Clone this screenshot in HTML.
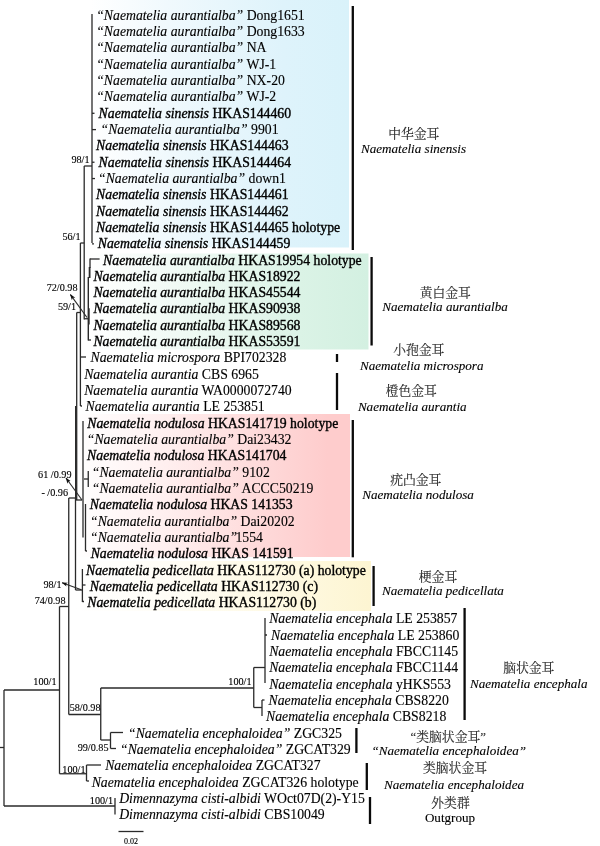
<!DOCTYPE html>
<html lang="zh"><head><meta charset="utf-8"><title>Naematelia phylogeny</title>
<style>
html,body{margin:0;padding:0;background:#fff;}
svg{display:block;}
text{font-family:"Liberation Serif","Noto Serif CJK SC",serif;fill:#000;stroke:#000;stroke-width:0.12px;}
.t{font-size:13.75px;}
.i{font-style:italic;}
.b{stroke-width:0.36px;}
.s{font-size:10.2px;}
.cn{font-size:12.8px;font-family:"Liberation Serif","Noto Serif CJK SC",serif;fill:#333;}
.g{font-size:13.1px;}
.ln line{stroke:#2a2a2a;stroke-linecap:butt;}
</style></head><body>
<svg width="600" height="846" viewBox="0 0 600 846">
<defs>
<linearGradient id="gb" x1="0" x2="1" y1="0" y2="0"><stop offset="0" stop-color="#ffffff"/><stop offset="0.3" stop-color="#f0f9fd"/><stop offset="0.75" stop-color="#def3fb"/><stop offset="1" stop-color="#d9f2fa"/></linearGradient>
<linearGradient id="gg" x1="0" x2="1" y1="0" y2="0"><stop offset="0" stop-color="#ffffff"/><stop offset="0.3" stop-color="#f1faf5"/><stop offset="0.75" stop-color="#dbf3e6"/><stop offset="1" stop-color="#d3f0e1"/></linearGradient>
<linearGradient id="gr" x1="0" x2="1" y1="0" y2="0"><stop offset="0" stop-color="#ffffff"/><stop offset="0.3" stop-color="#fff1f1"/><stop offset="0.7" stop-color="#fed8d8"/><stop offset="0.92" stop-color="#fecccc"/><stop offset="1" stop-color="#fecccc"/></linearGradient>
<linearGradient id="gy" x1="0" x2="1" y1="0" y2="0"><stop offset="0" stop-color="#ffffff"/><stop offset="0.35" stop-color="#fffdf5"/><stop offset="0.8" stop-color="#fef8dd"/><stop offset="1" stop-color="#fdf5d2"/></linearGradient>
<marker id="ah" viewBox="0 0 10 10" refX="9" refY="5" markerWidth="5.5" markerHeight="5.5" orient="auto"><path d="M0,1.5 L10,5 L0,8.5 L2.5,5 z" fill="#111"/></marker>
</defs>
<rect x="0" y="0" width="600" height="846" fill="#ffffff"/>

<rect x="90" y="0" width="259" height="247.5" fill="url(#gb)"/>
<rect x="90" y="253.5" width="278.5" height="96" fill="url(#gg)"/>
<rect x="75" y="414" width="275" height="143" fill="url(#gr)"/>
<rect x="75" y="561" width="296" height="50" fill="url(#gy)"/>
<g class="ln">
<line x1="92" y1="14" x2="92" y2="243" stroke-width="1.3"/>
<line x1="92" y1="113.29000000000002" x2="94.5" y2="113.29000000000002" stroke-width="1.3"/>
<line x1="92" y1="129.60500000000002" x2="96" y2="129.60500000000002" stroke-width="1.3"/>
<line x1="92" y1="162.235" x2="94.5" y2="162.235" stroke-width="1.3"/>
<line x1="92" y1="178.55" x2="95" y2="178.55" stroke-width="1.3"/>
<line x1="92" y1="243.81000000000003" x2="94" y2="243.81000000000003" stroke-width="1.3"/>
<line x1="84.2" y1="166" x2="92" y2="166" stroke-width="1.3"/>
<line x1="84.2" y1="166" x2="84.2" y2="319.4" stroke-width="1.3"/>
<line x1="80.4" y1="243" x2="84.2" y2="243" stroke-width="1.3"/>
<line x1="84.2" y1="318.75" x2="88" y2="318.75" stroke-width="1.3"/>
<line x1="90" y1="259" x2="99.6" y2="259" stroke-width="1.3"/>
<line x1="90" y1="258.4" x2="90" y2="268" stroke-width="1.3"/>
<line x1="89.6" y1="267" x2="89.6" y2="278" stroke-width="1.8"/>
<line x1="88.3" y1="277" x2="88.3" y2="340.5" stroke-width="1.4"/>
<line x1="88.9" y1="308.3" x2="88.9" y2="324.6" stroke-width="1.6"/>
<line x1="88.3" y1="340" x2="91" y2="340" stroke-width="1.3"/>
<line x1="80.4" y1="243" x2="80.4" y2="406" stroke-width="1.3"/>
<line x1="80.5" y1="357" x2="86" y2="357" stroke-width="1.3"/>
<line x1="80.5" y1="406" x2="82" y2="406" stroke-width="1.3"/>
<line x1="76.7" y1="312.5" x2="80.4" y2="312.5" stroke-width="1.3"/>
<line x1="76.7" y1="312.5" x2="76.7" y2="500" stroke-width="1.3"/>
<line x1="75.7" y1="406" x2="75.7" y2="500" stroke-width="1.4"/>
<line x1="75.5" y1="500" x2="82" y2="500" stroke-width="1.3"/>
<line x1="83" y1="421" x2="83" y2="537.5" stroke-width="1.3"/>
<line x1="85.5" y1="504" x2="85.5" y2="551" stroke-width="1.3"/>
<line x1="84" y1="479" x2="88.25" y2="479" stroke-width="1.3"/>
<line x1="88.25" y1="471" x2="88.25" y2="487" stroke-width="1.3"/>
<line x1="85.5" y1="551" x2="87" y2="551" stroke-width="1.3"/>
<line x1="68.75" y1="498" x2="75.5" y2="498" stroke-width="1.3"/>
<line x1="75.5" y1="498" x2="75.5" y2="590" stroke-width="1.3"/>
<line x1="75.5" y1="590" x2="82.4" y2="590" stroke-width="1.3"/>
<line x1="82.4" y1="569" x2="82.4" y2="602" stroke-width="1.3"/>
<line x1="82.4" y1="585" x2="85.5" y2="585" stroke-width="1.3"/>
<line x1="82.4" y1="601.5" x2="84" y2="601.5" stroke-width="1.3"/>
<line x1="68.75" y1="498" x2="68.75" y2="714.5" stroke-width="1.3"/>
<line x1="59.5" y1="606.5" x2="68.75" y2="606.5" stroke-width="1.3"/>
<line x1="59.5" y1="606.5" x2="59.5" y2="773.75" stroke-width="1.3"/>
<line x1="4" y1="690" x2="59.5" y2="690" stroke-width="1.3"/>
<line x1="4" y1="690" x2="4" y2="806" stroke-width="1.3"/>
<line x1="0" y1="747.5" x2="4" y2="747.5" stroke-width="1.3"/>
<line x1="4" y1="806" x2="115" y2="806" stroke-width="1.3"/>
<line x1="115" y1="798" x2="115" y2="814.5" stroke-width="1.3"/>
<line x1="59.5" y1="773.75" x2="86.5" y2="773.75" stroke-width="1.3"/>
<line x1="86.5" y1="765" x2="86.5" y2="781" stroke-width="1.3"/>
<line x1="86.5" y1="765" x2="101" y2="765" stroke-width="1.3"/>
<line x1="86.5" y1="781" x2="89" y2="781" stroke-width="1.3"/>
<line x1="68.75" y1="714.5" x2="100.75" y2="714.5" stroke-width="1.3"/>
<line x1="100.75" y1="688" x2="100.75" y2="740" stroke-width="1.3"/>
<line x1="100.75" y1="688" x2="253.75" y2="688" stroke-width="1.3"/>
<line x1="100.75" y1="740" x2="110.5" y2="740" stroke-width="1.3"/>
<line x1="110.5" y1="732.5" x2="110.5" y2="748.5" stroke-width="1.3"/>
<line x1="110.5" y1="732.5" x2="123" y2="732.5" stroke-width="1.3"/>
<line x1="110.5" y1="748.5" x2="116" y2="748.5" stroke-width="1.3"/>
<line x1="253.75" y1="667.5" x2="253.75" y2="707.5" stroke-width="1.3"/>
<line x1="253.75" y1="667.5" x2="265" y2="667.5" stroke-width="1.3"/>
<line x1="265" y1="618" x2="265" y2="683" stroke-width="1.3"/>
<line x1="265" y1="635" x2="267" y2="635" stroke-width="1.3"/>
<line x1="253.75" y1="707.5" x2="262" y2="707.5" stroke-width="1.3"/>
<line x1="262" y1="700" x2="262" y2="716" stroke-width="1.3"/>
<line x1="262" y1="700" x2="264.5" y2="700" stroke-width="1.3"/>
<line x1="118.5" y1="831.5" x2="143.5" y2="831.5" stroke-width="1.3"/>
<line x1="87" y1="317.5" x2="70.4" y2="294.6" stroke-width="1.1" marker-end="url(#ah)"/>
<line x1="82" y1="500" x2="66" y2="478" stroke-width="1.1" marker-end="url(#ah)"/>
<line x1="81.3" y1="589.75" x2="62.1" y2="582.75" stroke-width="1.1" marker-end="url(#ah)"/>
</g>
<g>
<line x1="352.8" y1="6" x2="352.8" y2="250" stroke="#0a0a0a" stroke-width="2.3"/>
<line x1="371.6" y1="257" x2="371.6" y2="345.5" stroke="#0a0a0a" stroke-width="2.3"/>
<line x1="337" y1="354" x2="337" y2="362" stroke="#0a0a0a" stroke-width="2.3"/>
<line x1="337" y1="373" x2="337" y2="410" stroke="#0a0a0a" stroke-width="2.3"/>
<line x1="352.8" y1="420" x2="352.8" y2="557.3" stroke="#0a0a0a" stroke-width="2.3"/>
<line x1="373.6" y1="566" x2="373.6" y2="606" stroke="#0a0a0a" stroke-width="2.3"/>
<line x1="464.6" y1="608" x2="464.6" y2="720" stroke="#0a0a0a" stroke-width="2.3"/>
<line x1="356.4" y1="728" x2="356.4" y2="753" stroke="#0a0a0a" stroke-width="2.3"/>
<line x1="366.8" y1="763" x2="366.8" y2="790" stroke="#0a0a0a" stroke-width="2.3"/>
<line x1="370" y1="797" x2="370" y2="824" stroke="#0a0a0a" stroke-width="2.3"/>
</g>
<g class="t">
<text id="r1" x="96.2" y="19.80" xml:space="preserve"><tspan class="i">“Naematelia aurantialba”</tspan> Dong1651</text>
<text id="r2" x="96.2" y="36.12" xml:space="preserve"><tspan class="i">“Naematelia aurantialba”</tspan> Dong1633</text>
<text id="r3" x="96.2" y="52.43" xml:space="preserve"><tspan class="i">“Naematelia aurantialba”</tspan> NA</text>
<text id="r4" x="96.2" y="68.75" xml:space="preserve"><tspan class="i">“Naematelia aurantialba”</tspan> WJ-1</text>
<text id="r5" x="96.2" y="85.06" xml:space="preserve"><tspan class="i">“Naematelia aurantialba”</tspan> NX-20</text>
<text id="r6" x="96.2" y="101.38" xml:space="preserve"><tspan class="i">“Naematelia aurantialba”</tspan> WJ-2</text>
<text id="r7" x="98.6" y="117.69" class="b" xml:space="preserve"><tspan class="i">Naematelia sinensis</tspan> HKAS144460</text>
<text id="r8" x="100.5" y="134.01" xml:space="preserve"><tspan class="i">“Naematelia aurantialba”</tspan> 9901</text>
<text id="r9" x="96.1" y="150.32" class="b" xml:space="preserve"><tspan class="i">Naematelia sinensis</tspan> HKAS144463</text>
<text id="r10" x="98.6" y="166.64" class="b" xml:space="preserve"><tspan class="i">Naematelia sinensis</tspan> HKAS144464</text>
<text id="r11" x="98" y="182.95" xml:space="preserve"><tspan class="i">“Naematelia aurantialba”</tspan> down1</text>
<text id="r12" x="96.1" y="199.27" class="b" xml:space="preserve"><tspan class="i">Naematelia sinensis</tspan> HKAS144461</text>
<text id="r13" x="96.1" y="215.58" class="b" xml:space="preserve"><tspan class="i">Naematelia sinensis</tspan> HKAS144462</text>
<text id="r14" x="96.1" y="231.90" class="b" xml:space="preserve"><tspan class="i">Naematelia sinensis</tspan> HKAS144465 holotype</text>
<text id="r15" x="97.8" y="248.21" class="b" xml:space="preserve"><tspan class="i">Naematelia sinensis</tspan> HKAS144459</text>
<text id="r16" x="103.1" y="264.52" class="b" xml:space="preserve"><tspan class="i">Naematelia aurantialba</tspan> HKAS19954 holotype</text>
<text id="r17" x="93.4" y="280.84" class="b" xml:space="preserve"><tspan class="i">Naematelia aurantialba</tspan> HKAS18922</text>
<text id="r18" x="93.4" y="297.15" class="b" xml:space="preserve"><tspan class="i">Naematelia aurantialba</tspan> HKAS45544</text>
<text id="r19" x="93.4" y="313.47" class="b" xml:space="preserve"><tspan class="i">Naematelia aurantialba</tspan> HKAS90938</text>
<text id="r20" x="93.4" y="329.78" class="b" xml:space="preserve"><tspan class="i">Naematelia aurantialba</tspan> HKAS89568</text>
<text id="r21" x="93.4" y="346.10" class="b" xml:space="preserve"><tspan class="i">Naematelia aurantialba</tspan> HKAS53591</text>
<text id="r22" x="90.5" y="362.41" xml:space="preserve"><tspan class="i">Naematelia microspora</tspan> BPI702328</text>
<text id="r23" x="84.2" y="378.73" xml:space="preserve"><tspan class="i">Naematelia aurantia</tspan> CBS 6965</text>
<text id="r24" x="84.2" y="395.04" xml:space="preserve"><tspan class="i">Naematelia aurantia</tspan> WA0000072740</text>
<text id="r25" x="85.5" y="411.36" xml:space="preserve"><tspan class="i">Naematelia aurantia</tspan> LE 253851</text>
<text id="r26" x="87.3" y="427.68" class="b" xml:space="preserve"><tspan class="i">Naematelia nodulosa</tspan> HKAS141719 holotype</text>
<text id="r27" x="86.75" y="443.99" xml:space="preserve"><tspan class="i">“Naematelia aurantialba”</tspan> Dai23432</text>
<text id="r28" x="87.1" y="460.31" class="b" xml:space="preserve"><tspan class="i">Naematelia nodulosa</tspan> HKAS141704</text>
<text id="r29" x="91.75" y="476.62" xml:space="preserve"><tspan class="i">“Naematelia aurantialba”</tspan> 9102</text>
<text id="r30" x="91.75" y="492.94" xml:space="preserve"><tspan class="i">“Naematelia aurantialba”</tspan> ACCC50219</text>
<text id="r31" x="89.8" y="509.25" class="b" xml:space="preserve"><tspan class="i">Naematelia nodulosa</tspan> HKAS 141353</text>
<text id="r32" x="90" y="525.57" xml:space="preserve"><tspan class="i">“Naematelia aurantialba”</tspan> Dai20202</text>
<text id="r33" x="90" y="541.88" xml:space="preserve"><tspan class="i">“Naematelia aurantialba”</tspan><tspan dx="-1.6">1554</tspan></text>
<text id="r34" x="90.7" y="558.20" class="b" xml:space="preserve"><tspan class="i">Naematelia nodulosa</tspan> HKAS 141591</text>
<text id="r35" x="86" y="574.51" class="b" xml:space="preserve"><tspan class="i">Naematelia pedicellata</tspan> HKAS112730 (a) holotype</text>
<text id="r36" x="89.8" y="590.83" class="b" xml:space="preserve"><tspan class="i">Naematelia pedicellata</tspan> HKAS112730 (c)</text>
<text id="r37" x="87.3" y="607.14" class="b" xml:space="preserve"><tspan class="i">Naematelia pedicellata</tspan> HKAS112730 (b)</text>
<text id="r38" x="269.2" y="623.46" xml:space="preserve"><tspan class="i">Naematelia encephala</tspan> LE 253857</text>
<text id="r39" x="271" y="639.77" xml:space="preserve"><tspan class="i">Naematelia encephala</tspan> LE 253860</text>
<text id="r40" x="269.2" y="656.09" xml:space="preserve"><tspan class="i">Naematelia encephala</tspan> FBCC1145</text>
<text id="r41" x="269.2" y="672.40" xml:space="preserve"><tspan class="i">Naematelia encephala</tspan> FBCC1144</text>
<text id="r42" x="269.2" y="688.72" xml:space="preserve"><tspan class="i">Naematelia encephala</tspan> yHKS553</text>
<text id="r43" x="268.5" y="705.03" xml:space="preserve"><tspan class="i">Naematelia encephala</tspan> CBS8220</text>
<text id="r44" x="266" y="721.35" xml:space="preserve"><tspan class="i">Naematelia encephala</tspan> CBS8218</text>
<text id="r45" x="128" y="737.66" xml:space="preserve"><tspan class="i">“Naematelia encephaloidea”</tspan> ZGC325</text>
<text id="r46" x="120" y="753.98" xml:space="preserve"><tspan class="i">“Naematelia encephaloidea”</tspan> ZGCAT329</text>
<text id="r47" x="105.2" y="770.29" xml:space="preserve"><tspan class="i">Naematelia encephaloidea</tspan> ZGCAT327</text>
<text id="r48" x="91.7" y="786.61" xml:space="preserve"><tspan class="i">Naematelia encephaloidea</tspan> ZGCAT326 holotype</text>
<text id="r49" x="119.2" y="802.92" xml:space="preserve"><tspan class="i">Dimennazyma cisti-albidi</tspan> WOct07D(2)-Y15</text>
<text id="r50" x="119.2" y="819.24" xml:space="preserve"><tspan class="i">Dimennazyma cisti-albidi</tspan> CBS10049</text>
</g>
<g class="s">
<text x="89.5" y="163" text-anchor="end" xml:space="preserve">98/1</text>
<text x="80.5" y="239.5" text-anchor="end" xml:space="preserve">56/1</text>
<text x="77.5" y="290.8" text-anchor="end" xml:space="preserve">72/0.98</text>
<text x="76" y="310.2" text-anchor="end" xml:space="preserve">59/1</text>
<text x="71.5" y="477.5" text-anchor="end" xml:space="preserve">61 /0.99</text>
<text x="68" y="496" text-anchor="end" xml:space="preserve">- /0.96</text>
<text x="61.5" y="588" text-anchor="end" xml:space="preserve">98/1</text>
<text x="65.5" y="603.5" text-anchor="end" xml:space="preserve">74/0.98</text>
<text x="56.5" y="685" text-anchor="end" xml:space="preserve">100/1</text>
<text x="100.5" y="711" text-anchor="end" xml:space="preserve">58/0.98</text>
<text x="251.5" y="685" text-anchor="end" xml:space="preserve">100/1</text>
<text x="108.5" y="751" text-anchor="end" xml:space="preserve">99/0.85</text>
<text x="85.5" y="773" text-anchor="end" xml:space="preserve">100/1</text>
<text x="113" y="803.5" text-anchor="end" xml:space="preserve">100/1</text>
</g>
<g text-anchor="middle">
<text class="cn" x="413.75" y="137.8">中华金耳</text>
<text class="g i" x="413.5" y="153.2">Naematelia sinensis</text>
<text class="cn" x="445.25" y="296.8">黄白金耳</text>
<text class="g i" x="445" y="311">Naematelia aurantialba</text>
<text class="cn" x="418.75" y="353.8">小孢金耳</text>
<text class="g i" x="421.75" y="369.5">Naematelia microspora</text>
<text class="cn" x="411.25" y="395.3">橙色金耳</text>
<text class="g i" x="412.25" y="410.5">Naematelia aurantia</text>
<text class="cn" x="415.75" y="483.8">疣凸金耳</text>
<text class="g i" x="418" y="498.5">Naematelia nodulosa</text>
<text class="cn" x="438" y="580.8">梗金耳</text>
<text class="g i" x="443" y="595">Naematelia pedicellata</text>
<text class="cn" x="528.75" y="672.3">脑状金耳</text>
<text class="g i" x="528.75" y="687.5">Naematelia encephala</text>
<text class="cn" x="448.25" y="740.8">“类脑状金耳”</text>
<text class="g i" x="448.75" y="755.3">“Naematelia encephaloidea”</text>
<text class="cn" x="455" y="772.3">类脑状金耳</text>
<text class="g i" x="454" y="788.5">Naematelia encephaloidea</text>
<text class="cn" x="450.5" y="806.8">外类群</text>
<text class="g" x="450" y="821.5">Outgroup</text>
</g>
<text x="131" y="844" text-anchor="middle" style="font-size:8px">0.02</text>
</svg></body></html>
